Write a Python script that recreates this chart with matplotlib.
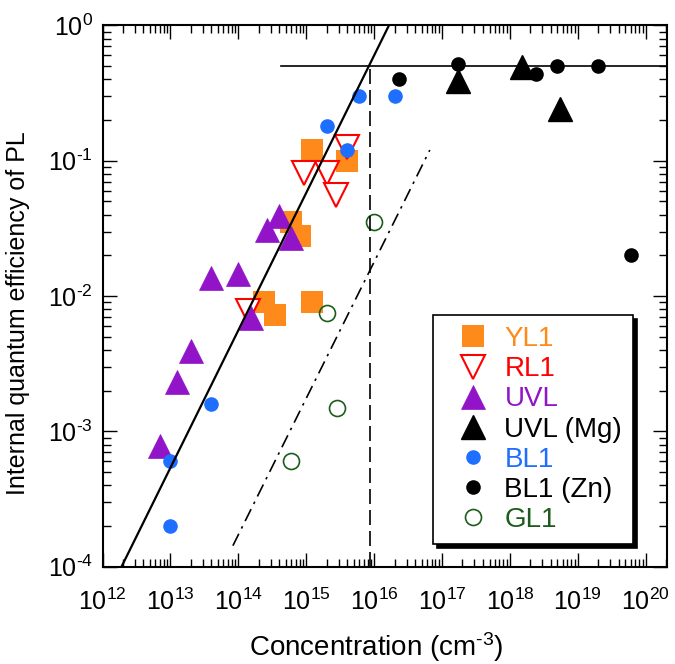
import numpy as np
import matplotlib
matplotlib.use("Agg")
import matplotlib.pyplot as plt
from matplotlib.ticker import FixedLocator, NullFormatter, FuncFormatter
from matplotlib.lines import Line2D

plt.rcParams['font.family'] = ['Liberation Sans', 'DejaVu Sans']
plt.rcParams['mathtext.fontset'] = 'custom'
plt.rcParams['mathtext.rm'] = 'Liberation Sans'
plt.rcParams['mathtext.it'] = 'Liberation Sans'
plt.rcParams['mathtext.default'] = 'regular'

# data (concentration in cm^-3, efficiency)
yl1_x = [1.2e15, 4.0e15, 6.0e14, 8.1e14, 2.4e14, 3.5e14, 1.2e15]
yl1_y = [0.12, 0.10, 0.035, 0.028, 0.0091, 0.0072, 0.0090]

rl1_x = [4.0e15, 9.3e14, 2.0e15, 2.7e15, 1.4e14]
rl1_y = [0.127, 0.081, 0.081, 0.056, 0.0077]

uvl_x = [4.0e14, 2.6e14, 6.0e14, 4.0e13, 1.0e14, 1.55e14, 2.0e13, 1.23e13, 6.9e12]
uvl_y = [0.039, 0.031, 0.027, 0.0135, 0.0145, 0.0069, 0.0039, 0.0023, 0.00078]

uvl_mg_x = [1.7e17, 1.5e18, 5.5e18]
uvl_mg_y = [0.39, 0.49, 0.24]

bl1_x = [6e15, 2e16, 2e15, 4e15, 4e13, 1e13, 1e13]
bl1_y = [0.30, 0.30, 0.18, 0.12, 0.0016, 0.0006, 0.0002]

bl1_zn_x = [2.3e16, 1.7e17, 2.45e18, 5.0e18, 2.0e19, 6.0e19]
bl1_zn_y = [0.40, 0.52, 0.44, 0.50, 0.50, 0.020]

gl1_x = [9.8e15, 2e15, 2.8e15, 5.9e14]
gl1_y = [0.035, 0.0075, 0.0015, 0.0006]

# guide lines
fit_x = [1.9e12, 1.65e16]
fit_y = [1e-4, 1.0]
sat_x = [4.3e14, 2.05e20]
sat_y = [0.5, 0.5]
crit_x = [8.6e15, 8.6e15]
crit_y = [1e-4, 0.5]
gl_fit_x = [8.3e13, 6.6e16]
gl_fit_y = [1.43e-4, 0.12]

x_decades = np.arange(12, 21)
y_decades = np.arange(-4, 1)

orange = '#FF8A1C'
red = '#FF0000'
purple = '#9114C8'
blue = '#1E6EFF'
green = '#1D5C1D'


def pow_label(v, pos):
    e = int(round(np.log10(v)))
    s = str(e).replace('-', '\u2010')
    return r'$\mathregular{10^{%s}}$' % s


fig = plt.figure(figsize=(6.75, 6.64), dpi=100)
ax = fig.add_axes([0.152, 0.1465, 0.836, 0.8152])

ax.plot(yl1_x, yl1_y, 's', ms=16, mfc=orange, mec=orange, mew=0, ls='none')
ax.plot(rl1_x, rl1_y, 'v', ms=17, mfc='white', mec=red, mew=1.5, ls='none')
ax.plot(uvl_x, uvl_y, '^', ms=17, mfc=purple, mec=purple, mew=0.5, ls='none')
ax.plot(uvl_mg_x, uvl_mg_y, '^', ms=17, mfc='black', mec='black', ls='none')
ax.plot(bl1_x, bl1_y, 'o', ms=10.5, mfc=blue, mec=blue, mew=0, ls='none')
ax.plot(bl1_zn_x, bl1_zn_y, 'o', ms=10.5, mfc='black', mec='black', mew=0, ls='none')
ax.plot(gl1_x, gl1_y, 'o', ms=11.5, mfc='none', mec=green, mew=1.2, ls='none')

ax.plot(fit_x, fit_y, '-', color='black', lw=1.6)
ax.plot(sat_x, sat_y, '-', color='black', lw=1.2)
ax.plot(crit_x, crit_y, color='black', lw=1.2, dashes=(9, 3.6))
ax.plot(gl_fit_x, gl_fit_y, color='black', lw=1.2, dashes=(8, 3.5, 1.5, 3.5))

ax.set_xscale('log')
ax.set_yscale('log')
ax.set_xlim(1e12, 2.05e20)
ax.set_ylim(1e-4, 1)

# major ticks each decade, minor ticks 2..9 within each decade
subs = np.arange(2, 10)
ax.xaxis.set_major_locator(FixedLocator(10.0 ** x_decades))
ax.yaxis.set_major_locator(FixedLocator(10.0 ** y_decades))
ax.xaxis.set_minor_locator(FixedLocator(np.outer(10.0 ** np.arange(11, 21), subs).ravel()))
ax.yaxis.set_minor_locator(FixedLocator(np.outer(10.0 ** np.arange(-5, 1), subs).ravel()))
ax.xaxis.set_major_formatter(FuncFormatter(pow_label))
ax.yaxis.set_major_formatter(FuncFormatter(pow_label))
ax.xaxis.set_minor_formatter(NullFormatter())
ax.yaxis.set_minor_formatter(NullFormatter())

ax.tick_params(which='both', direction='in', top=True, right=True, width=1.0,
               color='black')
ax.tick_params(which='major', length=10, labelsize=18)
ax.tick_params(which='minor', length=5.5)
ax.tick_params(axis='x', which='major', pad=16)
ax.tick_params(axis='y', which='major', pad=7)
for sp in ax.spines.values():
    sp.set_linewidth(1.5)

ax.set_xlabel('Concentration (cm$^{\u20103}$)', fontsize=20)
ax.set_ylabel('Internal quantum efficiency of PL', fontsize=18)
ax.xaxis.set_label_coords(0.4855, -0.117)
ax.yaxis.set_label_coords(-0.128, 0.468)

handles = [
    Line2D([], [], marker='s', ms=16, mfc=orange, mec=orange, mew=0, ls='none'),
    Line2D([], [], marker='v', ms=17, mfc='white', mec=red, mew=1.5, ls='none'),
    Line2D([], [], marker='^', ms=17, mfc=purple, mec=purple, mew=0.5, ls='none'),
    Line2D([], [], marker='^', ms=17, mfc='black', mec='black', ls='none'),
    Line2D([], [], marker='o', ms=10.5, mfc=blue, mec=blue, mew=0, ls='none'),
    Line2D([], [], marker='o', ms=10.5, mfc='black', mec='black', mew=0, ls='none'),
    Line2D([], [], marker='o', ms=11.5, mfc='none', mec=green, mew=1.2, ls='none'),
]
labels = ['YL1', 'RL1', 'UVL', 'UVL (Mg)', 'BL1', 'BL1 (Zn)', 'GL1']
label_colors = [orange, red, purple, 'black', blue, 'black', green]

leg = ax.legend(handles, labels, loc='upper left', bbox_to_anchor=(0.586, 0.465),
                borderaxespad=0, fontsize=20, numpoints=1, handlelength=2.09,
                handletextpad=0.07, labelspacing=0.15, borderpad=0.4,
                fancybox=False, edgecolor='black', framealpha=1,
                shadow={'color': 'black', 'alpha': 1, 'ox': 3, 'oy': -3})
leg.get_frame().set_linewidth(1.2)
for t, c in zip(leg.get_texts(), label_colors):
    t.set_color(c)

fig.savefig('out.png', dpi=100)
